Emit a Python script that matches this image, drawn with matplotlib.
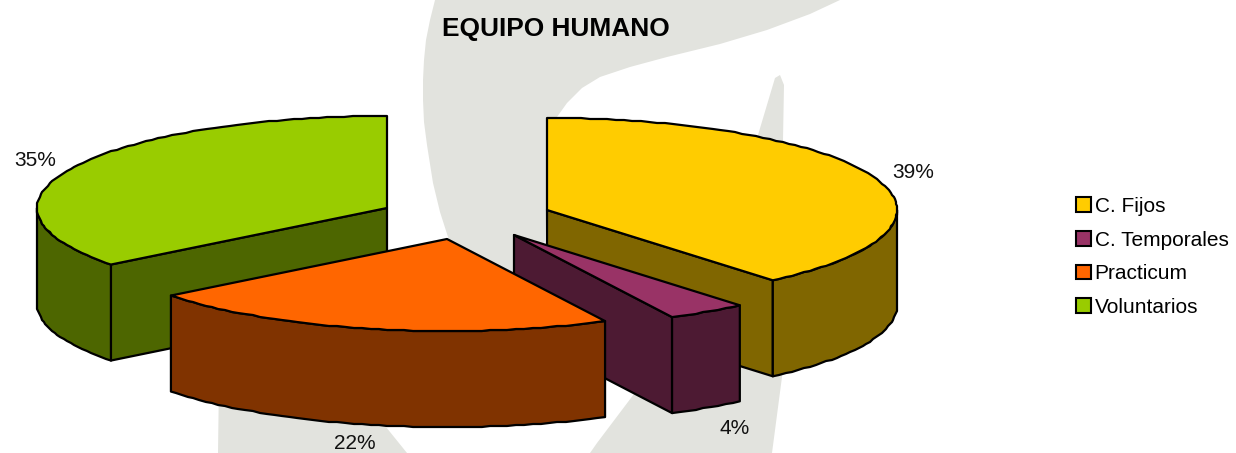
import numpy as np
import matplotlib
matplotlib.use('Agg')
import matplotlib.pyplot as plt
from matplotlib.patches import Polygon, Patch

# chart data
categories = ['C. Fijos', 'C. Temporales', 'Practicum', 'Voluntarios']
values = [38.8, 3.7, 21.9, 35.5]
pct_labels = ['39%', '4%', '22%', '35%']

# colours: top face and side wall
top_colors = ['#FFCC00', '#993366', '#FF6600', '#99CC00']
side_colors = ['#806600', '#4D1A33', '#803300', '#4D6600']

# exploded centre of each slice and label position, in pixels
centres = [(547, 210), (514, 235), (447, 239), (387, 208)]
label_pos = [(913, 172), (735, 429), (355, 443.5), (35, 160)]
RX, RY, DEPTH = 350, 92, 96
WATERMARK = '#E2E3DE'

plt.rcParams['font.family'] = ['Liberation Sans', 'DejaVu Sans']

fig = plt.figure(figsize=(12.36, 4.53), dpi=100)
ax = fig.add_axes([0, 0, 1, 1])
ax.set_xlim(0, 1236)
ax.set_ylim(453, 0)
ax.axis('off')

# watermark logo behind the chart
logo_shapes = [
    [(435, 0), (430, 20), (426, 40), (424, 60), (423, 80), (423, 100), (424, 122), (427, 145), (433, 183),
     (440, 212), (448, 237), (470, 300), (530, 300), (545, 240), (548, 150), (557, 117), (567, 103), (582, 88),
     (600, 77), (630, 67), (667, 57), (720, 44), (767, 30), (810, 14), (840, 0)],
    [(225, 300), (219, 380), (218, 453), (407, 453), (386, 427), (360, 350)],
    [(780, 75), (775, 78), (758, 135), (700, 270), (637, 390), (597, 443), (590, 453), (772, 453),
     (782, 377), (786, 250), (783, 140), (784, 85)],
]
for shape in logo_shapes:
    ax.add_patch(Polygon(shape, closed=True, facecolor=WATERMARK, edgecolor='none', zorder=1))


def rim(cx, cy, a0, a1, drop=0):
    # clockwise from 12 o'clock, rounded to pixels like the old renderer
    n = max(2, int(abs(a1 - a0) / 1.4) + 1)
    t = np.radians(np.linspace(a0, a1, n))
    x = np.round(cx + RX * np.sin(t))
    y = np.round(cy - RY * np.cos(t) + drop)
    x[0], y[0] = cx + RX * np.sin(t[0]), cy - RY * np.cos(t[0]) + drop
    x[-1], y[-1] = cx + RX * np.sin(t[-1]), cy - RY * np.cos(t[-1]) + drop
    return np.column_stack([x, y])


edges = 360 * np.cumsum([0] + values) / sum(values)
# back slices first
for i in [3, 0, 1, 2]:
    cx, cy = centres[i]
    a0, a1 = edges[i], edges[i + 1]
    z = 3 + [3, 0, 1, 2].index(i)
    kw = dict(closed=True, linewidth=1.6, edgecolor='black', joinstyle='round', zorder=z)

    # flat walls along the cut
    for ang, show in [(a1, a1 < 180), (a0, a0 > 180)]:
        if show:
            tip = rim(cx, cy, ang, ang + 1)[0]
            wall = [(cx, cy), tip, (tip[0], tip[1] + DEPTH), (cx, cy + DEPTH)]
            ax.add_patch(Polygon(wall, facecolor=side_colors[i], **kw))

    # outer wall, only the front half of the ellipse shows
    lo, hi = max(a0, 90), min(a1, 270)
    if lo < hi:
        upper = rim(cx, cy, lo, hi)
        lower = rim(cx, cy, lo, hi, DEPTH)
        ax.add_patch(Polygon(np.vstack([upper, lower[::-1]]), facecolor=side_colors[i], **kw))

    top = np.vstack([[(cx, cy)], rim(cx, cy, a0, a1)])
    ax.add_patch(Polygon(top, facecolor=top_colors[i], **kw))

for (x, y), lab in zip(label_pos, pct_labels):
    ax.text(x, y, lab, ha='center', va='center', fontsize=15, color='#111111', zorder=10)

ax.text(556, 29, 'EQUIPO HUMANO', ha='center', va='center', fontsize=18.9, fontweight='bold', color='black', zorder=10)

handles = [Patch(facecolor=c, edgecolor='black', linewidth=1.5) for c in top_colors]
ax.legend(handles, categories, loc='upper left', bbox_to_anchor=(1076, 197), bbox_transform=ax.transData,
          frameon=False, fontsize=15, handlelength=0.7, handleheight=0.7, handletextpad=0.2,
          labelspacing=0.7, borderpad=0, borderaxespad=0)

fig.savefig('out.png', dpi=100)
